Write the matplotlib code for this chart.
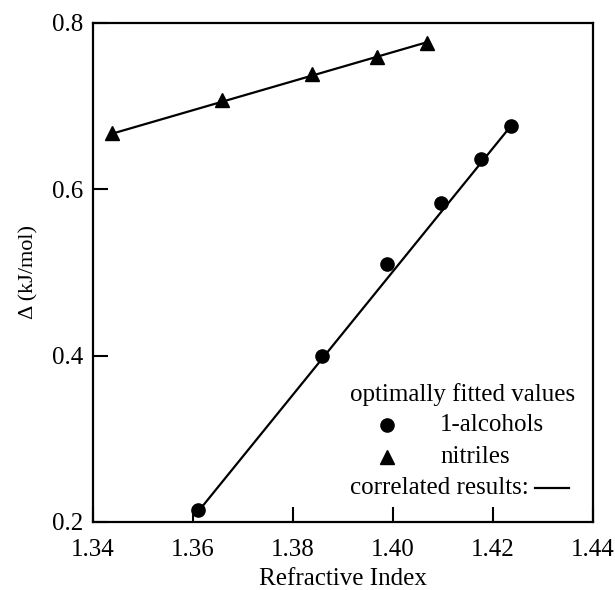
# -*- coding: utf-8 -*-
import numpy as np
import matplotlib
matplotlib.use("Agg")
import matplotlib.pyplot as plt

plt.rcParams["font.family"] = ["Liberation Serif", "DejaVu Serif"]
plt.rcParams["mathtext.fontset"] = "stix"

# optimally fitted values
alcohol_n = [1.3611, 1.3859, 1.3989, 1.4097, 1.4177, 1.4237]
alcohol_delta = [0.2144, 0.3996, 0.5099, 0.5840, 0.6365, 0.6765]
nitrile_n = [1.3439, 1.3659, 1.3839, 1.3969, 1.4069]
nitrile_delta = [0.6674, 0.7074, 0.7383, 0.7595, 0.7763]

# correlated results (line end points)
alcohol_fit_n = [1.3611, 1.4237]
alcohol_fit_delta = [0.2130, 0.6770]
nitrile_fit_n = [1.3439, 1.4069]
nitrile_fit_delta = [0.6670, 0.7770]

xticks = [1.34, 1.36, 1.38, 1.40, 1.42, 1.44]
xticklabels = ["1.34", "1.36", "1.38", "1.40", "1.42", "1.44"]
yticks = [0.2, 0.4, 0.6, 0.8]
yticklabels = ["0.2", "0.4", "0.6", "0.8"]

fs = 18

fig = plt.figure(figsize=(6.15, 5.9), dpi=100)
ax = fig.add_axes([0.1512, 0.1153, 0.813, 0.8458])

ax.plot(alcohol_fit_n, alcohol_fit_delta, color="k", lw=1.6, zorder=2)
ax.plot(nitrile_fit_n, nitrile_fit_delta, color="k", lw=1.6, zorder=2)
ax.plot(alcohol_n, alcohol_delta, "o", color="k", ms=9.5, ls="none", zorder=3)
ax.plot(nitrile_n, nitrile_delta, "^", color="k", ms=9.5, ls="none", zorder=3)

ax.set_xlim(1.34, 1.44)
ax.set_ylim(0.2, 0.8)
ax.set_xticks(xticks)
ax.set_xticklabels(xticklabels)
ax.set_yticks(yticks)
ax.set_yticklabels(yticklabels)
ax.tick_params(direction="in", length=11, width=1.5, labelsize=fs, top=False, right=False)
ax.tick_params(axis="x", pad=12)
ax.tick_params(axis="y", pad=7)
for sp in ax.spines.values():
    sp.set_linewidth(1.6)

ax.set_xlabel("Refractive Index", fontsize=fs, labelpad=5)
ax.set_ylabel("Δ (kJ/mol)", fontsize=16, labelpad=10)

# legend drawn by hand
tr = ax.transAxes
ax.text(0.74, 0.2545, "optimally fitted values", transform=tr, ha="center", va="center", fontsize=fs)
ax.plot([0.588], [0.194], "o", color="k", ms=9.5, transform=tr, clip_on=False)
ax.text(0.694, 0.194, "1-alcohols", transform=tr, ha="left", va="center", fontsize=fs)
ax.plot([0.588], [0.130], "^", color="k", ms=9.5, transform=tr, clip_on=False)
ax.text(0.694, 0.130, "nitriles", transform=tr, ha="left", va="center", fontsize=fs)
ax.text(0.514, 0.068, "correlated results:", transform=tr, ha="left", va="center", fontsize=fs)
ax.plot([0.884, 0.952], [0.068, 0.068], color="k", lw=1.6, transform=tr)

fig.savefig("out.png", dpi=100)
